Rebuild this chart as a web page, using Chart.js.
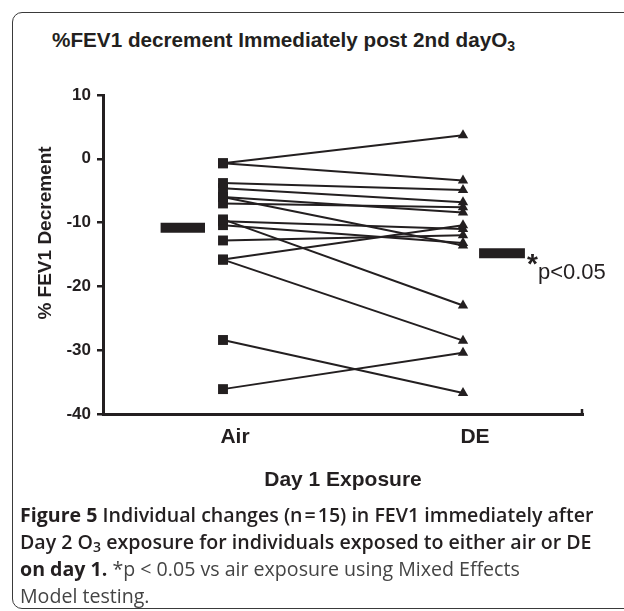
<!DOCTYPE html>
<html>
<head>
<meta charset="utf-8">
<script src="https://cdn.jsdelivr.net/npm/chart.js@4.4.1/dist/chart.umd.min.js"></script>
<style>
  html, body { margin: 0; padding: 0; background: #fff; overflow: hidden; }
  body { width: 624px; height: 611px; position: relative; }
  .frame {
    position: absolute; left: 12px; top: 12px; width: 700px; height: 595px;
    border: 1.5px solid #3a3a3a; border-radius: 10px;
  }
  .title {
    position: absolute; left: 52px; top: 28px;
    font: bold 20.7px "Liberation Sans", Arial, sans-serif; color: #231f20; white-space: nowrap;
  }
  .title sub { font-size: 14px; vertical-align: -4px; line-height: 0; }
  #chart { position: absolute; left: 0; top: 0; }
  .caption {
    position: absolute; left: 20px; top: 501px;
    font: 19.6px/27px "Open Sans", sans-serif; color: #231f20; white-space: nowrap;
  }
  .caption b { font-weight: 700; }
  .caption .hd { font-weight: 600; }
  .caption .lt { color: #444; }
  .caption sub { font-size: 14px; vertical-align: -3px; line-height: 0; }
</style>
</head>
<body>
<div class="frame"></div>
<div class="title">%FEV1 decrement Immediately post 2nd dayO<sub>3</sub></div>
<canvas id="chart" width="624" height="510"></canvas>
<div class="caption"><b>Figure 5</b> <span class="hd">Individual changes (n&#8202;=&#8202;15) in FEV1 immediately after</span><br><span class="hd">Day 2 O<sub>3</sub> exposure for individuals exposed to either air or DE</span><br><b>on day 1.</b> <span class="lt">*p &lt; 0.05 vs air exposure using Mixed Effects</span><br><span class="lt">Model testing.</span></div>

<script>
const xLabels = ['Air', 'DE'];
const yTicks = [10, 0, -10, -20, -30, -40];

// % FEV1 decrement per subject after day 2 O3, by day 1 exposure
const airValues = [-0.7, -0.7, -3.8, -4.6, -6.0, -7.0, -6.0, -9.5, -10.4, -12.8, -15.8, -15.8, -28.4, -36.1, -9.8];
const deValues  = [ 3.7, -3.4, -4.9, -6.8, -8.4, -7.6, -13.6, -23.0, -13.2, -12.0, -10.4, -28.5, -36.7, -30.4, -11.0];

// group means (thick bars)
const meanValues = [-10.8, -14.8];
const sigNote = 'p<0.05';

const ink = '#231f20';
const font = '"Liberation Sans", Arial, sans-serif';

const datasets = airValues.map((a, i) => ({
  data: [{ x: 1, y: a }, { x: 2, y: deValues[i] }],
  borderColor: ink,
  borderWidth: 2,
  pointStyle: ctx => ctx.dataIndex === 0 ? 'rect' : 'triangle',
  pointRadius: ctx => ctx.dataIndex === 0 ? 7 : 6,
  pointBackgroundColor: ink,
  pointBorderColor: ink,
  pointBorderWidth: 0
}));

// mean bars sit just beside each group
const barSpan = [[0.74, 0.925], [2.067, 2.258]];
meanValues.forEach((m, i) => {
  datasets.push({
    data: [{ x: barSpan[i][0], y: m }, { x: barSpan[i][1], y: m }],
    borderColor: ink,
    borderWidth: 10,
    borderCapStyle: 'butt',
    pointRadius: 0
  });
});

const extras = {
  id: 'extras',
  afterDatasetsDraw(chart) {
    const { ctx, chartArea, scales } = chart;
    ctx.save();
    ctx.fillStyle = ink;
    // y axis title
    ctx.save();
    ctx.translate(chartArea.left - 57, chartArea.top + 138);
    ctx.rotate(-Math.PI / 2);
    ctx.font = 'bold 19px ' + font;
    ctx.textAlign = 'center';
    ctx.textBaseline = 'middle';
    ctx.fillText('% FEV1 Decrement', 0, 0);
    ctx.restore();
    // significance mark after DE mean bar
    const bx = scales.x.getPixelForValue(barSpan[1][1]);
    const by = scales.y.getPixelForValue(meanValues[1]);
    ctx.textAlign = 'left';
    ctx.textBaseline = 'alphabetic';
    ctx.font = 'bold 28px ' + font;
    ctx.fillText('*', bx + 2, by + 20);
    ctx.font = '22px ' + font;
    ctx.fillText(sigNote, bx + 13, by + 26);
    // little end tick on x axis
    ctx.strokeStyle = ink;
    ctx.lineWidth = 2.5;
    ctx.beginPath();
    ctx.moveTo(chartArea.right - 1, chartArea.bottom);
    ctx.lineTo(chartArea.right - 1, chartArea.bottom - 5);
    ctx.stroke();
    ctx.restore();
  }
};

new Chart(document.getElementById('chart'), {
  type: 'line',
  data: { datasets },
  options: {
    responsive: false,
    animation: false,
    layout: { padding: { left: 36, top: 95, right: 41, bottom: 0 } },
    plugins: { legend: { display: false }, tooltip: { enabled: false }, title: { display: false } },
    scales: {
      x: {
        type: 'linear',
        min: 0.5,
        max: 2.5,
        afterBuildTicks: axis => { axis.ticks = xLabels.map((_, i) => ({ value: i + 1 })); },
        afterFit: s => { s.height = 96; },
        ticks: {
          callback: v => xLabels[v - 1],
          font: { family: font, size: 21, weight: 'bold' },
          color: ink,
          padding: 11,
          labelOffset: 12
        },
        grid: { drawOnChartArea: false, drawTicks: false },
        border: { display: true, color: ink, width: 3 },
        title: {
          display: true,
          text: 'Day 1 Exposure',
          font: { family: font, size: 21, weight: 'bold' },
          color: ink,
          padding: { top: 0, bottom: 17 }
        }
      },
      y: {
        min: yTicks[yTicks.length - 1],
        max: yTicks[0],
        afterFit: s => { s.width = 67; },
        ticks: {
          stepSize: 10,
          font: { family: font, size: 17, weight: 'bold' },
          color: ink,
          padding: 6
        },
        grid: { drawOnChartArea: false, drawTicks: true, tickLength: 6, lineWidth: 2.5, color: ink },
        border: { display: true, color: ink, width: 3 }
      }
    }
  },
  plugins: [extras]
});
</script>
</body>
</html>
